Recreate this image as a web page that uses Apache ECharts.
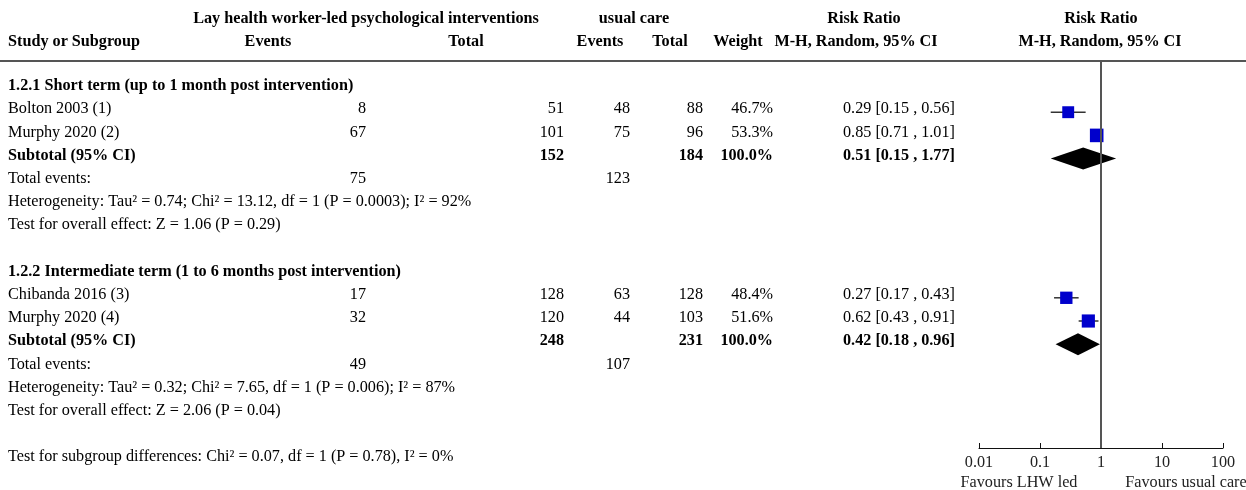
<!DOCTYPE html>
<html>
<head>
<meta charset="utf-8">
<script src="https://cdn.jsdelivr.net/npm/echarts@6/dist/echarts.min.js"></script>
<style>html,body{margin:0;padding:0;background:#fff}#c{width:1246px;height:490px}</style>
</head>
<body>
<div id="c"></div>
<script>
// ---------- data ----------
const groupNames = ['1.2.1 Short term (up to 1 month post intervention)', '1.2.2 Intermediate term (1 to 6 months post intervention)'];
const studyNames = ['Bolton 2003 (1)', 'Murphy 2020 (2)', 'Chibanda 2016 (3)', 'Murphy 2020 (4)'];
const studyGroup = [0, 0, 1, 1];
const expEvents = [8, 67, 17, 32];
const expTotal = [51, 101, 128, 120];
const ctrlEvents = [48, 75, 63, 44];
const ctrlTotal = [88, 96, 128, 103];
const weights = [46.7, 53.3, 48.4, 51.6];
const rr = [0.29, 0.85, 0.27, 0.62];
const rrLo = [0.15, 0.71, 0.17, 0.43];
const rrHi = [0.56, 1.01, 0.43, 0.91];

const subExpTotal = [152, 248];
const subCtrlTotal = [184, 231];
const subWeight = [100.0, 100.0];
const subRR = [0.51, 0.42];
const subLo = [0.15, 0.18];
const subHi = [1.77, 0.96];
const totExpEvents = [75, 49];
const totCtrlEvents = [123, 107];
const heterogeneity = [
  'Heterogeneity: Tau² = 0.74; Chi² = 13.12, df = 1 (P = 0.0003); I² = 92%',
  'Heterogeneity: Tau² = 0.32; Chi² = 7.65, df = 1 (P = 0.006); I² = 87%'
];
const overallEffect = [
  'Test for overall effect: Z = 1.06 (P = 0.29)',
  'Test for overall effect: Z = 2.06 (P = 0.04)'
];
const subgroupTest = 'Test for subgroup differences: Chi² = 0.07, df = 1 (P = 0.78), I² = 0%';
const tickLabels = ['0.01', '0.1', '1', '10', '100'];
const favours = ['Favours LHW led', 'Favours usual care'];

// ---------- layout ----------
const FONT = '"Liberation Serif", "Times New Roman", serif';
const FS = '16.2px ';
const ROW0 = 84, STEP = 23.2, TOP = 61, BOTTOM = 448, H = 490;
const yMin = (TOP - ROW0) / STEP, yMax = (BOTTOM - ROW0) / STEP;
const MOFF = 5; // marker vertical offset in px
const TOFF = 2; // text vertical offset in px
const col = { name: 8, expEv: 366, expTot: 564, ctrlEv: 630, ctrlTot: 703, weight: 773, rr: 843 };

// build rows
const cells = [];   // {x,row,text,align,bold}
const studyRow = [], subRow = [];
let row = 0;
function fmtCI(a, b, c) { return a.toFixed(2) + ' [' + b.toFixed(2) + ' , ' + c.toFixed(2) + ']'; }
for (let g = 0; g < groupNames.length; g++) {
  cells.push({ x: col.name, row, text: groupNames[g], align: 'left', bold: true });
  row++;
  for (let i = 0; i < studyNames.length; i++) {
    if (studyGroup[i] !== g) continue;
    studyRow[i] = row;
    cells.push({ x: col.name, row, text: studyNames[i], align: 'left' });
    cells.push({ x: col.expEv, row, text: String(expEvents[i]), align: 'right' });
    cells.push({ x: col.expTot, row, text: String(expTotal[i]), align: 'right' });
    cells.push({ x: col.ctrlEv, row, text: String(ctrlEvents[i]), align: 'right' });
    cells.push({ x: col.ctrlTot, row, text: String(ctrlTotal[i]), align: 'right' });
    cells.push({ x: col.weight, row, text: weights[i].toFixed(1) + '%', align: 'right' });
    cells.push({ x: col.rr, row, text: fmtCI(rr[i], rrLo[i], rrHi[i]), align: 'left' });
    row++;
  }
  subRow[g] = row;
  cells.push({ x: col.name, row, text: 'Subtotal (95% CI)', align: 'left', bold: true });
  cells.push({ x: col.expTot, row, text: String(subExpTotal[g]), align: 'right', bold: true });
  cells.push({ x: col.ctrlTot, row, text: String(subCtrlTotal[g]), align: 'right', bold: true });
  cells.push({ x: col.weight, row, text: subWeight[g].toFixed(1) + '%', align: 'right', bold: true });
  cells.push({ x: col.rr, row, text: fmtCI(subRR[g], subLo[g], subHi[g]), align: 'left', bold: true });
  row++;
  cells.push({ x: col.name, row, text: 'Total events:', align: 'left' });
  cells.push({ x: col.expEv, row, text: String(totExpEvents[g]), align: 'right' });
  cells.push({ x: col.ctrlEv, row, text: String(totCtrlEvents[g]), align: 'right' });
  row++;
  cells.push({ x: col.name, row, text: heterogeneity[g], align: 'left' });
  row++;
  cells.push({ x: col.name, row, text: overallEffect[g], align: 'left' });
  row += 2;
}
cells.push({ x: col.name, row, text: subgroupTest, align: 'left' });

// header graphics
function hdr(x, y, text, align) {
  return { type: 'text', x, y, style: { text, align: align || 'center', verticalAlign: 'middle', font: 'bold ' + FS + FONT, fill: '#000' } };
}
const graphics = [
  hdr(366, 19, 'Lay health worker-led psychological interventions'),
  hdr(634, 19, 'usual care'),
  hdr(864, 19, 'Risk Ratio'),
  hdr(1101, 19, 'Risk Ratio'),
  hdr(8, 42, 'Study or Subgroup', 'left'),
  hdr(268, 42, 'Events'),
  hdr(466, 42, 'Total'),
  hdr(600, 42, 'Events'),
  hdr(670, 42, 'Total'),
  hdr(738, 42, 'Weight'),
  hdr(856, 42, 'M-H, Random, 95% CI'),
  hdr(1100, 42, 'M-H, Random, 95% CI'),
  { type: 'line', shape: { x1: 0, y1: TOP, x2: 1246, y2: TOP }, style: { stroke: '#555', lineWidth: 2 } },
  { type: 'text', x: 1019, y: 483, style: { text: favours[0], align: 'center', verticalAlign: 'middle', font: FS + FONT, fill: '#222' } },
  { type: 'text', x: 1186, y: 483, style: { text: favours[1], align: 'center', verticalAlign: 'middle', font: FS + FONT, fill: '#222' } }
];

const chart = echarts.init(document.getElementById('c'), null, { renderer: 'canvas' });
const yAxisBase = { type: 'value', inverse: true, min: yMin, max: yMax, show: false };

chart.setOption({
  animation: false,
  backgroundColor: '#fff',
  graphic: graphics,
  grid: [
    { left: 0, right: 0, top: TOP, bottom: H - BOTTOM },
    { left: 979, width: 244, top: TOP, bottom: H - BOTTOM }
  ],
  xAxis: [
    { gridIndex: 0, type: 'value', min: 0, max: 1246, show: false },
    {
      gridIndex: 1, type: 'log', logBase: 10, min: 0.01, max: 100, splitNumber: 4,
      position: 'bottom',
      axisLine: { show: true, onZero: false, lineStyle: { color: '#111', width: 1 } },
      axisTick: { show: true, inside: true, length: 5, lineStyle: { color: '#111' } },
      splitLine: { show: false },
      axisLabel: {
        margin: 7, color: '#222', fontSize: 16.2, fontFamily: FONT,
        formatter: v => tickLabels[Math.round(Math.log10(v)) + 2]
      }
    }
  ],
  yAxis: [
    Object.assign({ gridIndex: 0 }, yAxisBase),
    Object.assign({ gridIndex: 1 }, yAxisBase)
  ],
  series: [
    {
      type: 'custom', xAxisIndex: 0, yAxisIndex: 0, silent: true,
      data: cells.map(c => [c.x, c.row]),
      renderItem: (params, api) => {
        const c = cells[params.dataIndex];
        const p = api.coord([c.x, c.row]);
        return {
          type: 'text', x: p[0], y: p[1] + TOFF,
          style: { text: c.text, align: c.align, verticalAlign: 'middle', fill: '#000', font: (c.bold ? 'bold ' : '') + FS + FONT }
        };
      }
    },
    {
      // CI whiskers
      type: 'custom', xAxisIndex: 1, yAxisIndex: 1, silent: true,
      encode: { x: [0, 1], y: 2 },
      data: studyNames.map((n, i) => [rrLo[i], rrHi[i], studyRow[i]]),
      renderItem: (params, api) => {
        const a = api.coord([api.value(0), api.value(2)]);
        const b = api.coord([api.value(1), api.value(2)]);
        return { type: 'line', shape: { x1: a[0], y1: a[1] + MOFF, x2: b[0], y2: b[1] + MOFF }, style: { stroke: '#333', lineWidth: 1.5 } };
      },
      z: 2
    },
    {
      // study squares
      type: 'scatter', xAxisIndex: 1, yAxisIndex: 1, silent: true,
      symbol: 'rect',
      symbolOffset: [0, MOFF],
      data: studyNames.map((n, i) => ({ value: [rr[i], studyRow[i]], symbolSize: weights[i] * 0.255 })),
      itemStyle: { color: '#0000cc', opacity: 1 },
      z: 3,
      markLine: {
        silent: true, symbol: 'none', label: { show: false },
        lineStyle: { color: '#555', width: 2, type: 'solid' },
        data: [{ xAxis: 1 }]
      }
    },
    {
      // subtotal diamonds
      type: 'custom', xAxisIndex: 1, yAxisIndex: 1, silent: true,
      encode: { x: [0, 1, 2], y: 3 },
      data: groupNames.map((n, g) => [subRR[g], subLo[g], subHi[g], subRow[g]]),
      renderItem: (params, api) => {
        const r = api.value(3);
        const c = api.coord([api.value(0), r]);
        const l = api.coord([api.value(1), r]);
        const h = api.coord([api.value(2), r]);
        const y = c[1] + MOFF, hh = 11;
        return { type: 'polygon', shape: { points: [[l[0], y], [c[0], y - hh], [h[0], y], [c[0], y + hh]] }, style: { fill: '#000' } };
      },
      z: 4
    }
  ]
});
</script>
</body>
</html>
